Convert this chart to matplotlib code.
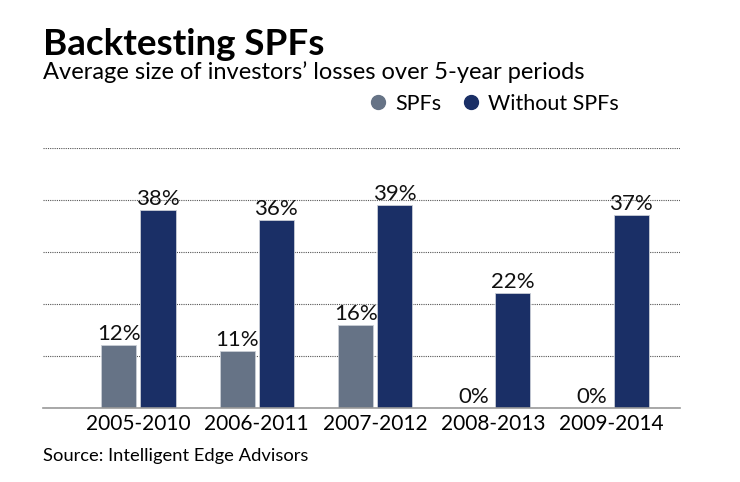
import matplotlib

matplotlib.use("Agg")
import matplotlib.pyplot as plt  # noqa: E402
from matplotlib.lines import Line2D  # noqa: E402
import numpy as np  # noqa: E402

periods = ["2005-2010", "2006-2011", "2007-2012", "2008-2013", "2009-2014"]
spf = [12, 11, 16, 0, 0]
without_spf = [38, 36, 39, 22, 37]
y_ticks = [0, 10, 20, 30, 40, 50]

GREY, NAVY = "#667386", "#1a2f66"
plt.rcParams["font.family"] = ["Lato", "DejaVu Sans"]

fig = plt.figure(figsize=(7.4, 4.82), dpi=100, facecolor="white")
ax = fig.add_axes([43 / 740, 1 - 408 / 482, (680 - 43) / 740, (408 - 147.5) / 482])

x = np.arange(len(periods))
w, off = 0.296, 0.165
b1 = ax.bar(x - off, spf, w, color=GREY, edgecolor="#c9ced6", linewidth=0.6)
b2 = ax.bar(x + off, without_spf, w, color=NAVY, edgecolor="#c9ced6", linewidth=0.6)
for bars, vals in ((b1, spf), (b2, without_spf)):
    for r, v in zip(bars, vals):
        ax.text(r.get_x() + r.get_width() / 2, v + 0.2, f"{v}%", ha="center", va="bottom",
                fontsize=16, color="#111111")

ax.set_xlim(-0.807, 4.577)
ax.set_ylim(0, 50)
ax.set_yticks(y_ticks)
ax.set_yticklabels([])
ax.tick_params(axis="y", length=0)
ax.grid(axis="y", linestyle=(0, (1, 1)), color="#555555", linewidth=0.8)
ax.set_axisbelow(True)
ax.set_xticks(x)
ax.set_xticklabels(periods, fontsize=15)
ax.tick_params(axis="x", length=0, pad=4)
for s in ("top", "left", "right"):
    ax.spines[s].set_visible(False)
ax.spines["bottom"].set_color("#999999")
ax.spines["bottom"].set_linewidth(1.2)

fig.text(43 / 740, 1 - 55 / 482, "Backtesting SPFs", fontsize=26.5, fontweight="bold",
         ha="left", va="baseline")
fig.text(43 / 740, 1 - 79 / 482, "Average size of investors\u2019 losses over 5-year periods",
         fontsize=17, ha="left", va="baseline")
fig.text(43 / 740, 1 - 461 / 482, "Source: Intelligent Edge Advisors", fontsize=13.2,
         ha="left", va="baseline")

handles = [Line2D([], [], marker="o", linestyle="", markersize=10, color=c) for c in (GREY, NAVY)]
fig.legend(handles, ["SPFs", "Without SPFs"], loc="center", bbox_to_anchor=(492 / 740, 1 - 104 / 482),
           ncol=2, frameon=False, fontsize=15.5, handletextpad=0.2, columnspacing=0.8,
           handlelength=1.2)

fig.savefig("out.png", dpi=100, facecolor="white")
